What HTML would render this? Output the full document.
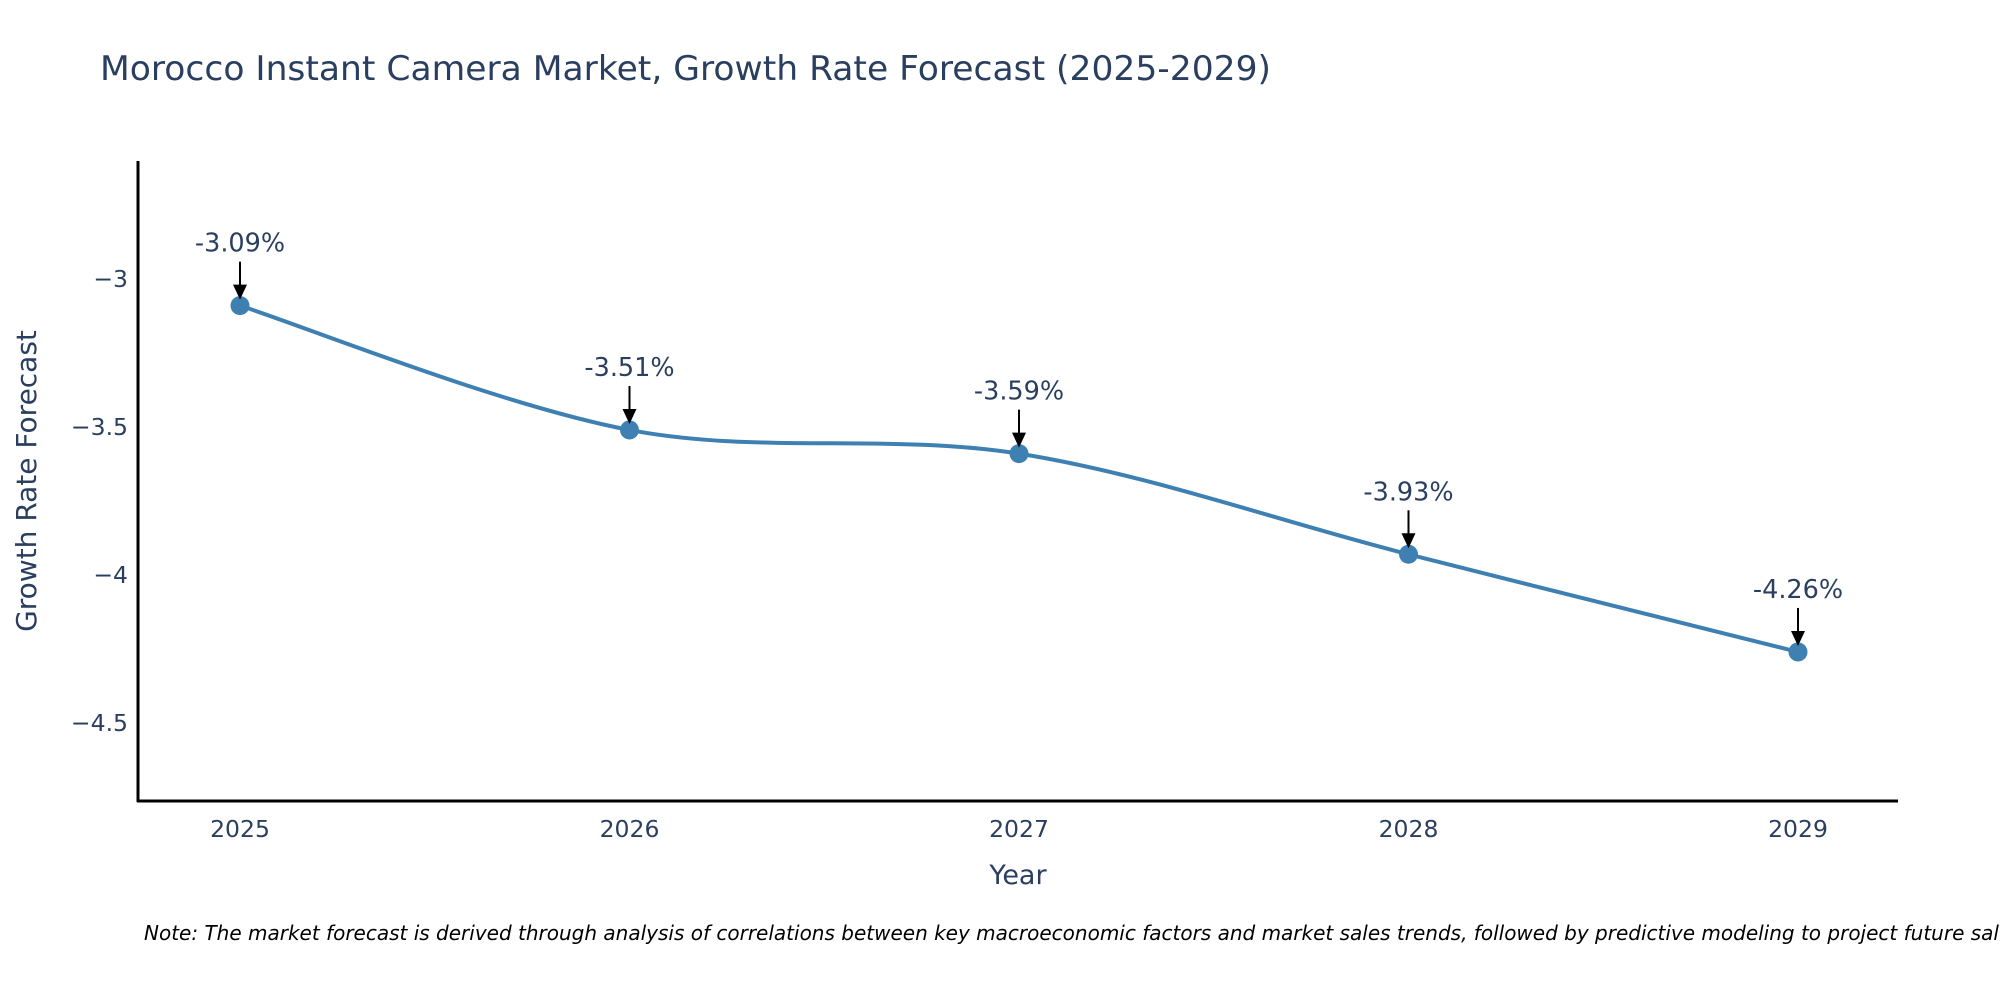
<!DOCTYPE html>
<html><head><meta charset="utf-8"><style>
html,body{margin:0;padding:0;background:#fff;width:2000px;height:1000px;overflow:hidden}
svg text{font-family:"DejaVu Sans","Liberation Sans",sans-serif;fill:#2a3f5f}
</style></head><body>
<svg id="chart" width="2000" height="1000" xmlns="http://www.w3.org/2000/svg">
<text x="100" y="80" font-size="34" textLength="1171" lengthAdjust="spacingAndGlyphs">Morocco Instant Camera Market, Growth Rate Forecast (2025-2029)</text>
<g id="axes"></g>
<g id="series"></g>
<g id="annots"></g>
<text x="1018" y="884" font-size="27" text-anchor="middle">Year</text>
<text transform="translate(36,481) rotate(-90)" font-size="28" text-anchor="middle">Growth Rate Forecast</text>
<text x="144" y="940" font-size="20" font-style="italic" style="fill:#000">Note: The market forecast is derived through analysis of correlations between key macroeconomic factors and market sales trends, followed by predictive modeling to project future sales.</text>
</svg>
<script>
const years = [2025, 2026, 2027, 2028, 2029];
const values = [-3.09, -3.51, -3.59, -3.93, -4.26];
const labels = ["-3.09%", "-3.51%", "-3.59%", "-3.93%", "-4.26%"];
const yTicks = [-3, -3.5, -4, -4.5];
const yTickLabels = ["\u22123", "\u22123.5", "\u22124", "\u22124.5"];

const L=138,R=1898,T=161,B=801;
const X=v=>240+(v-2025)*389.5;
const Y=v=>279+(-3-v)*296;
const NS="http://www.w3.org/2000/svg";
function mk(tag,attrs,parent){const e=document.createElementNS(NS,tag);for(const k in attrs)e.setAttribute(k,attrs[k]);parent.appendChild(e);return e;}
const ax=document.getElementById('axes');
let e=mk('line',{x1:L,y1:T,x2:L,y2:B+1,stroke:'#000','stroke-width':3},ax);


e=mk('line',{x1:L-1,y1:B,x2:R,y2:B,stroke:'#000','stroke-width':3},ax);


yTicks.forEach((t,i)=>{const tx=mk('text',{x:128,y:Y(t)+8,'font-size':23.5,'text-anchor':'end'},ax);tx.textContent=yTickLabels[i];

});
years.forEach(yr=>{const tx=mk('text',{x:X(yr),y:837,'font-size':23.5,'text-anchor':'middle'},ax);tx.textContent=yr;

});
const pts=years.map((y,i)=>[X(y),Y(values[i])]);
let d=`M${pts[0][0]},${pts[0][1]}`;const s=0.5/3*2;
for(let i=0;i<pts.length-1;i++){const p0=pts[Math.max(0,i-1)],p1=pts[i],p2=pts[i+1],p3=pts[Math.min(pts.length-1,i+2)];
const c1=[p1[0]+(p2[0]-p0[0])*s/2,p1[1]+(p2[1]-p0[1])*s/2],c2=[p2[0]-(p3[0]-p1[0])*s/2,p2[1]-(p3[1]-p1[1])*s/2];
d+=` C${c1[0]},${c1[1]} ${c2[0]},${c2[1]} ${p2[0]},${p2[1]}`;}
const sg=document.getElementById('series');
e=mk('path',{d:d,fill:'none',stroke:'#3f80b2','stroke-width':4},sg);


const an=document.getElementById('annots');
pts.forEach((p,i)=>{const c=mk('circle',{cx:p[0],cy:p[1],r:9.5,fill:'#3f80b2'},sg);


const ln=mk('line',{x1:p[0],y1:p[1]-44,x2:p[0],y2:p[1]-16,stroke:'#000','stroke-width':2},an);


const hd=mk('path',{d:`M${p[0]-7},${p[1]-21} L${p[0]+7},${p[1]-21} L${p[0]},${p[1]-6} z`,fill:'#000'},an);


const t=mk('text',{x:p[0],y:p[1]-54,'font-size':25.5,'text-anchor':'middle'},an);t.textContent=labels[i];

});
</script>
</body></html>
